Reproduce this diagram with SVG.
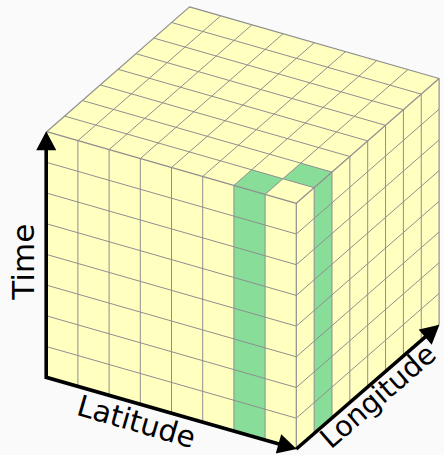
<svg xmlns="http://www.w3.org/2000/svg" width="444" height="455" viewBox="0 0 444 455">
<style>
.face{fill:#ffffc0;stroke:none}
.hl{fill:#88dd99;stroke:none}
.grid{fill:none;stroke:#8f8f8f;stroke-width:1}
.edge{fill:none;stroke:#8f8f8f;stroke-width:1.2;stroke-linejoin:round}
.axis{fill:none;stroke:#000;stroke-width:3.6;stroke-linejoin:miter}
.lbl{font-family:"DejaVu Sans",Verdana,sans-serif;fill:#000;text-anchor:middle}
</style>
<defs>
<marker id="ah" markerUnits="userSpaceOnUse" markerWidth="20" markerHeight="20" viewBox="0 0 18 19" refX="10" refY="9.5" orient="auto-start-reverse">
<path d="M0,0 L18,9.5 L0,19 z" fill="#000"/>
</marker>
</defs>
<rect width="444" height="455" fill="#fafafa"/>
<g id="cube">
<g id="front-face">
<polygon class="face" points="46.7,131.7 296.3,203.3 296.3,448.9 46.7,377.3"/>
<polygon class="hl" points="233.9,185.4 265.1,194.35 265.1,439.95 233.9,431"/>
<path class="grid" d="M77.9,140.65V386.25M109.1,149.6V395.2M140.3,158.55V404.15M171.5,167.5V413.1M202.7,176.45V422.05M233.9,185.4V431M265.1,194.35V439.95M46.7,162.4L296.3,234M46.7,193.1L296.3,264.7M46.7,223.8L296.3,295.4M46.7,254.5L296.3,326.1M46.7,285.2L296.3,356.8M46.7,315.9L296.3,387.5M46.7,346.6L296.3,418.2"/>
</g>
<g id="top-face">
<polygon class="face" points="46.7,131.7 189.5,6.9 439.1,78.5 296.3,203.3"/>
<polygon class="hl" points="233.9,185.4 265.1,194.35 282.95,178.75 251.75,169.8"/>
<polygon class="hl" points="282.95,178.75 314.15,187.7 332,172.1 300.8,163.15"/>
<path class="grid" d="M77.9,140.65L220.7,15.85M109.1,149.6L251.9,24.8M140.3,158.55L283.1,33.75M171.5,167.5L314.3,42.7M202.7,176.45L345.5,51.65M233.9,185.4L376.7,60.6M265.1,194.35L407.9,69.55M64.55,116.1L314.15,187.7M82.4,100.5L332,172.1M100.25,84.9L349.85,156.5M118.1,69.3L367.7,140.9M135.95,53.7L385.55,125.3M153.8,38.1L403.4,109.7M171.65,22.5L421.25,94.1"/>
</g>
<g id="right-face">
<polygon class="face" points="296.3,203.3 439.1,78.5 439.1,324.1 296.3,448.9"/>
<polygon class="hl" points="314.15,187.7 332,172.1 332,417.7 314.15,433.3"/>
<path class="grid" d="M314.15,187.7V433.3M332,172.1V417.7M349.85,156.5V402.1M367.7,140.9V386.5M385.55,125.3V370.9M403.4,109.7V355.3M421.25,94.1V339.7M296.3,234L439.1,109.2M296.3,264.7L439.1,139.9M296.3,295.4L439.1,170.6M296.3,326.1L439.1,201.3M296.3,356.8L439.1,232M296.3,387.5L439.1,262.7M296.3,418.2L439.1,293.4"/>
</g>
<path class="edge" d="M46.7,131.7L189.5,6.9L439.1,78.5L439.1,324.1L296.3,448.9L46.7,377.3ZM46.7,131.7L296.3,203.3L439.1,78.5M296.3,203.3V448.9"/>
</g>
<g id="axes">
<path class="axis" d="M46.2,139.7V377.3L288.6,446.8" marker-start="url(#ah)" marker-end="url(#ah)"/>
<path class="axis" d="M296.3,449L433.1,330.2" marker-end="url(#ah)"/>
</g>
<g id="labels">
<text class="lbl" font-size="31" transform="translate(23.3,261.7) rotate(-90)" y="11">Time</text>
<text class="lbl" font-size="29.5" transform="translate(136.5,421) rotate(16.1)" y="10.8">Latitude</text>
<text class="lbl" font-size="28.5" transform="translate(377.5,395.5) rotate(-40.9)" y="10.5">Longitude</text>
</g>
</svg>
